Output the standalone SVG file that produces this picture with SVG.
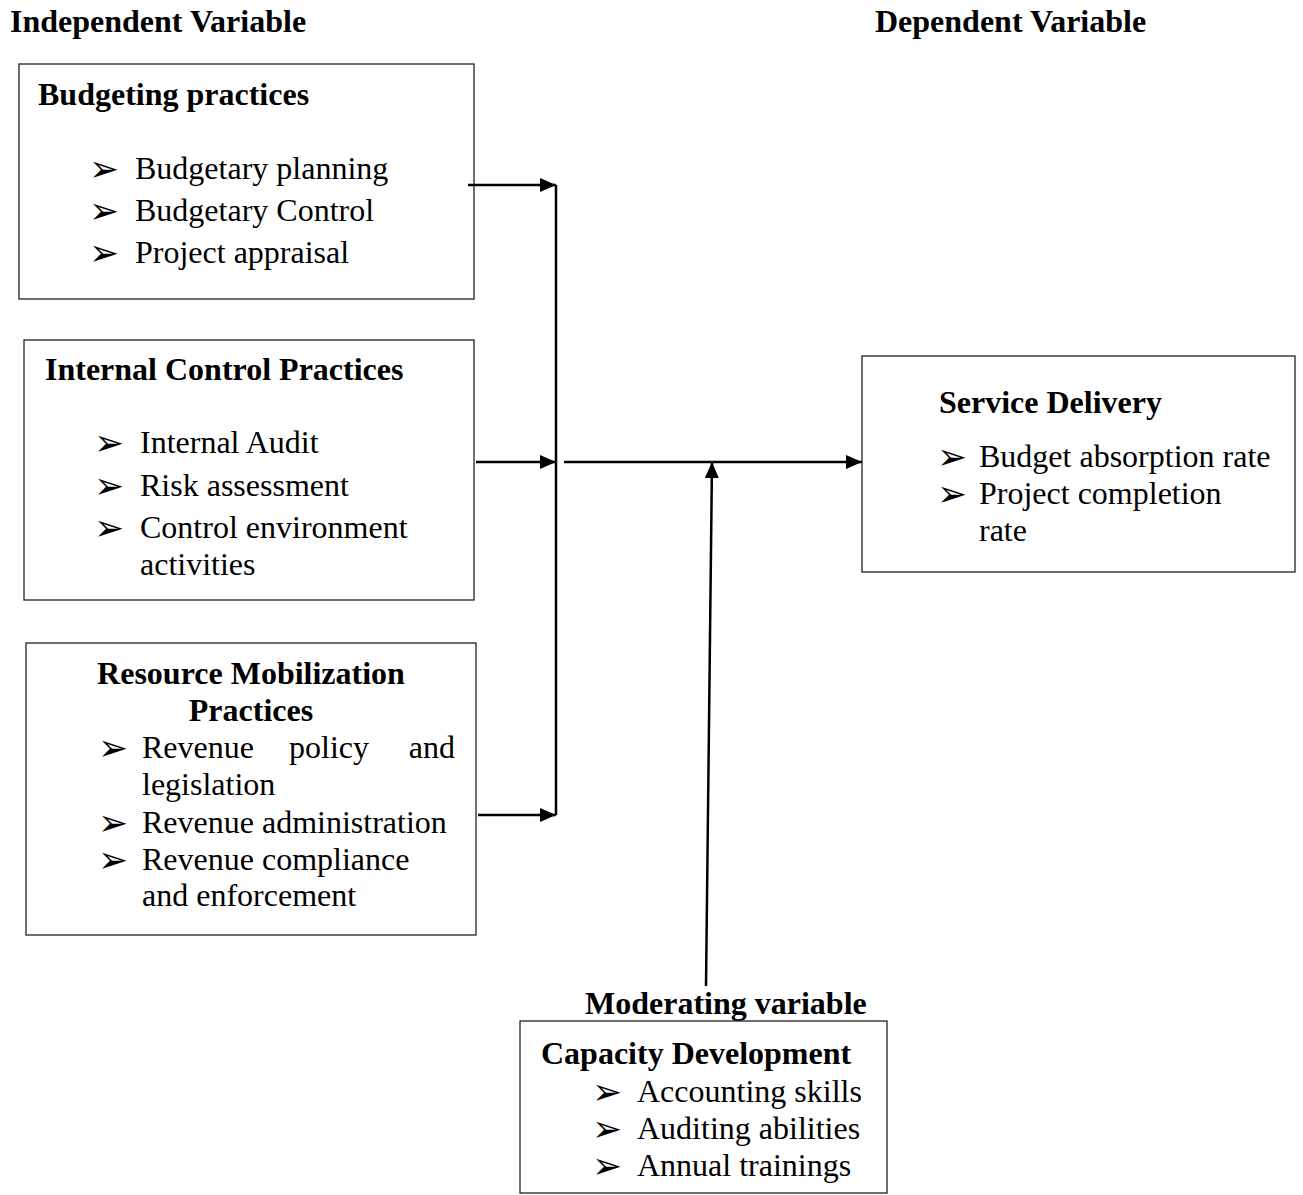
<svg xmlns="http://www.w3.org/2000/svg" width="1303" height="1195" viewBox="0 0 1303 1195">
<style>
  .box { fill: #fff; stroke: #222; stroke-width: 1.3; }
  .h { font-family: "Liberation Serif", "Times New Roman", serif; font-weight: bold; font-size: 32px; fill: #000; }
  .t { font-family: "Liberation Serif", "Times New Roman", serif; font-size: 32px; fill: #000; }
  .b { font-family: "DejaVu Sans", sans-serif; font-size: 36px; fill: #000; }
  .c { stroke: #000; stroke-width: 2.5; fill: none; }
</style>
<defs>
  <marker id="ah" markerWidth="16" markerHeight="14" refX="16" refY="7" orient="auto" markerUnits="userSpaceOnUse">
    <path d="M0,0 L16,7 L0,14 Z" fill="#000"/>
  </marker>
</defs>
<rect width="1303" height="1195" fill="#fff"/>

<text class="h" x="10" y="32">Independent Variable</text>
<text class="h" x="875" y="32">Dependent Variable</text>

<g id="budgeting">
  <rect class="box" x="19" y="64" width="455" height="235"/>
  <text class="h" x="38" y="105">Budgeting practices</text>
  <text class="b" x="89" y="181">➢</text><text class="t" x="135" y="179">Budgetary planning</text>
  <text class="b" x="89" y="223">➢</text><text class="t" x="135" y="221">Budgetary Control</text>
  <text class="b" x="89" y="265">➢</text><text class="t" x="135" y="263">Project appraisal</text>
</g>

<g id="internal">
  <rect class="box" x="24" y="340" width="450" height="260"/>
  <text class="h" x="45" y="380">Internal Control Practices</text>
  <text class="b" x="94" y="455">➢</text><text class="t" x="140" y="453">Internal Audit</text>
  <text class="b" x="94" y="498">➢</text><text class="t" x="140" y="496">Risk assessment</text>
  <text class="b" x="94" y="540">➢</text><text class="t" x="140" y="538">Control environment</text>
  <text class="t" x="140" y="575">activities</text>
</g>

<g id="resource">
  <rect class="box" x="26" y="643" width="450" height="292"/>
  <text class="h" x="251" y="684" text-anchor="middle">Resource Mobilization</text>
  <text class="h" x="251" y="721" text-anchor="middle">Practices</text>
  <text class="b" x="98" y="760">➢</text>
  <text class="t" x="142" y="758">Revenue</text>
  <text class="t" x="329" y="758" text-anchor="middle">policy</text>
  <text class="t" x="455" y="758" text-anchor="end">and</text>
  <text class="t" x="142" y="795">legislation</text>
  <text class="b" x="98" y="835">➢</text><text class="t" x="142" y="833">Revenue administration</text>
  <text class="b" x="98" y="872">➢</text><text class="t" x="142" y="870">Revenue compliance</text>
  <text class="t" x="142" y="906">and enforcement</text>
</g>

<g id="service">
  <rect class="box" x="862" y="356" width="433" height="216"/>
  <text class="h" x="939" y="413">Service Delivery</text>
  <text class="b" x="937" y="469">➢</text><text class="t" x="979" y="467">Budget absorption rate</text>
  <text class="b" x="937" y="506">➢</text><text class="t" x="979" y="504">Project completion</text>
  <text class="t" x="979" y="541">rate</text>
</g>

<g id="capacity">
  <text class="h" x="585" y="1014">Moderating variable</text>
  <rect class="box" x="520" y="1021" width="367" height="172"/>
  <text class="h" x="541" y="1064">Capacity Development</text>
  <text class="b" x="592" y="1104">➢</text><text class="t" x="637" y="1102">Accounting skills</text>
  <text class="b" x="592" y="1141">➢</text><text class="t" x="637" y="1139">Auditing abilities</text>
  <text class="b" x="592" y="1178">➢</text><text class="t" x="637" y="1176">Annual trainings</text>
</g>

<g id="connectors">
  <line class="c" x1="468" y1="185" x2="556" y2="185" marker-end="url(#ah)"/>
  <line class="c" x1="556" y1="185" x2="556" y2="815"/>
  <line class="c" x1="476" y1="462" x2="556" y2="462" marker-end="url(#ah)"/>
  <line class="c" x1="564" y1="462" x2="862" y2="462" marker-end="url(#ah)"/>
  <line class="c" x1="478" y1="815" x2="556" y2="815" marker-end="url(#ah)"/>
  <line class="c" x1="706" y1="986" x2="712" y2="462" marker-end="url(#ah)"/>
</g>
</svg>
